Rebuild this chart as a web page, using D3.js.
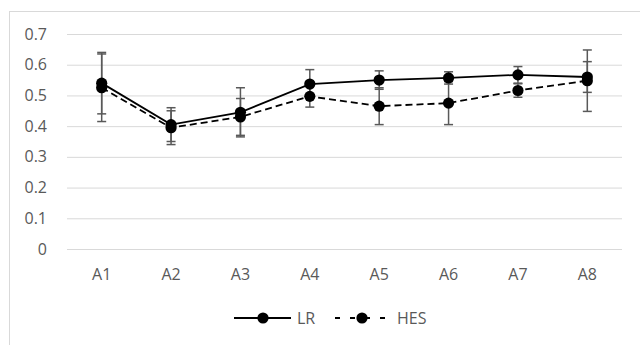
<!DOCTYPE html>
<html>
<head>
<meta charset="utf-8">
<script src="https://cdn.jsdelivr.net/npm/d3@7"></script>
<style>
  body { margin: 0; background: #fff; }
  svg text { font-family: "Open Sans", sans-serif; fill: #595959; }
</style>
</head>
<body>
<svg width="640" height="345"></svg>
<script>
const categories = ['A1', 'A2', 'A3', 'A4', 'A5', 'A6', 'A7', 'A8'];
const lrValues  = [0.540, 0.405, 0.445, 0.537, 0.550, 0.557, 0.567, 0.560];
const lrErrors  = [0.100, 0.055, 0.080, 0.047, 0.030, 0.020, 0.027, 0.050];
const hesValues = [0.525, 0.395, 0.430, 0.497, 0.465, 0.475, 0.516, 0.548];
const hesErrors = [0.110, 0.055, 0.060, 0.035, 0.060, 0.070, 0.022, 0.100];
const yTicks = [0, 0.1, 0.2, 0.3, 0.4, 0.5, 0.6, 0.7];

const series = [
  { name: 'LR',  values: lrValues,  errors: lrErrors,  dash: null, legendDash: null },
  { name: 'HES', values: hesValues, errors: hesErrors, dash: '7,4', legendDash: '5,10' }
];

const svg = d3.select('svg');
const width  = +svg.attr('width');
const height = +svg.attr('height');

// chart area border (Excel style), runs off the right/bottom
svg.append('rect')
  .attr('x', 9.5).attr('y', 11.5)
  .attr('width', width + 10).attr('height', height + 10)
  .attr('fill', 'none').attr('stroke', '#d9d9d9');

const margin = { left: 67, right: 18, top: 34, bottom: 96 };

const xScale = d3.scaleBand()
  .domain(categories)
  .range([margin.left, width - margin.right]);

const yScale = d3.scaleLinear()
  .domain([0, 0.7])
  .range([height - margin.bottom, margin.top]);

const xc = d => xScale(d) + xScale.bandwidth() / 2;

// gridlines + y labels
const yAxis = svg.append('g')
  .attr('transform', `translate(${margin.left},0)`)
  .call(d3.axisLeft(yScale).tickValues(yTicks)
    .tickFormat(d => d === 0 ? '0' : d3.format('.1f')(d))
    .tickSize(-(width - margin.left - margin.right)).tickPadding(20));
yAxis.select('.domain').remove();
yAxis.selectAll('.tick line').attr('stroke', '#d9d9d9').attr('stroke-width', 1);
yAxis.selectAll('.tick text').attr('font-size', 16).attr('fill', '#595959');

// x labels
const xAxis = svg.append('g')
  .attr('transform', `translate(0,${yScale(0)})`)
  .call(d3.axisBottom(xScale).tickSize(0).tickPadding(20));
xAxis.select('.domain').remove();
xAxis.selectAll('.tick text').attr('font-size', 16).attr('fill', '#595959');

// error bars
const capHalf = 4.5;
series.forEach(s => {
  const eb = svg.append('g').attr('stroke', '#595959').attr('stroke-width', 1.5);
  categories.forEach((c, i) => {
    const x = xc(c);
    const top = yScale(s.values[i] + s.errors[i]);
    const bot = yScale(s.values[i] - s.errors[i]);
    eb.append('line').attr('x1', x).attr('x2', x).attr('y1', top).attr('y2', bot);
    eb.append('line').attr('x1', x - capHalf).attr('x2', x + capHalf).attr('y1', top).attr('y2', top);
    eb.append('line').attr('x1', x - capHalf).attr('x2', x + capHalf).attr('y1', bot).attr('y2', bot);
  });
});

const line = d3.line()
  .x((d, i) => xc(categories[i]))
  .y(d => yScale(d));

series.forEach(s => {
  svg.append('path')
    .datum(s.values)
    .attr('d', line)
    .attr('fill', 'none')
    .attr('stroke', '#000')
    .attr('stroke-width', 1.8)
    .attr('stroke-dasharray', s.dash);
  svg.append('g').selectAll('circle')
    .data(s.values).enter()
    .append('circle')
      .attr('cx', (d, i) => xc(categories[i]))
      .attr('cy', d => yScale(d))
      .attr('r', 5.6)
      .attr('fill', '#000');
});

// legend
const legendY = 318;
const legendItems = [
  { s: series[0], x0: 234, x1: 291, tx: 297 },
  { s: series[1], x0: 335, x1: 388, tx: 397 }
];
legendItems.forEach(it => {
  svg.append('line')
    .attr('x1', it.x0).attr('x2', it.x1)
    .attr('y1', legendY).attr('y2', legendY)
    .attr('stroke', '#000').attr('stroke-width', 1.8)
    .attr('stroke-dasharray', it.s.legendDash);
  svg.append('circle')
    .attr('cx', (it.x0 + it.x1) / 2 + 0.5).attr('cy', legendY)
    .attr('r', 5.6).attr('fill', '#000');
  svg.append('text')
    .attr('x', it.tx).attr('y', legendY)
    .attr('dy', '0.35em')
    .attr('font-size', 16)
    .text(it.s.name);
});
</script>
</body>
</html>
